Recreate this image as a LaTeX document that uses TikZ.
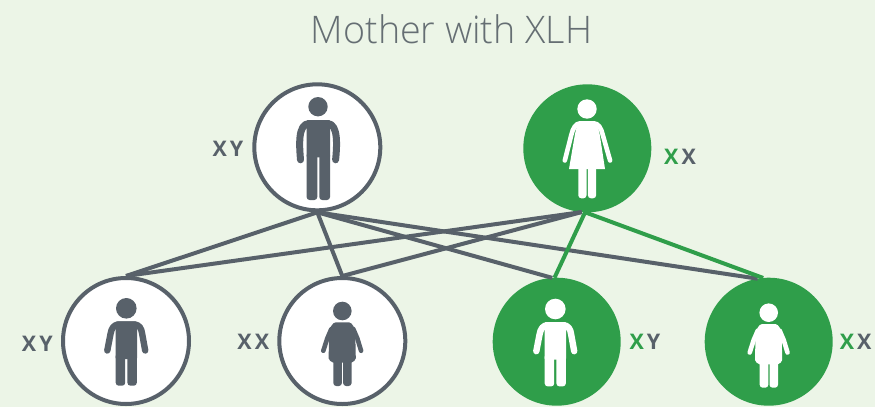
\documentclass[tikz,border=0pt]{standalone}
\usepackage{fontspec}
\setmainfont{Open Sans}
\newfontfamily\titlefont{Open Sans Light}
\definecolor{bgc}{HTML}{ECF5E7}
\definecolor{grayc}{HTML}{58616A}
\definecolor{greenc}{HTML}{2F9E4A}
\definecolor{titlec}{HTML}{656E73}
\tikzset{
  grayring/.style={circle,draw=grayc,fill=white,line width=4pt,minimum size=126pt,inner sep=0pt,outer sep=2pt},
  greendisc/.style={circle,fill=greenc,minimum size=128pt,inner sep=0pt,outer sep=0pt},
  genes/.style={font=\fontsize{21.5}{21.5}\selectfont\bfseries,inner sep=0pt,anchor=center},
  link/.style={line width=4pt,draw=grayc},
  greenlink/.style={line width=4pt,draw=greenc}
}
\newcommand{\lk}{\kern3pt}
% figures, drawn round a circle's centre
\newcommand{\figman}[4]{\begin{scope}[shift={(#1)},xshift=#2pt,yshift=#3pt]
  \fill[#4] (0.7,-40.6) circle (9.7pt);
  \fill[#4,rounded corners=1pt] (-10.7,-27.3) rectangle (12.7,10);
  \fill[#4,rounded corners=3pt] (-10.7,5) rectangle (0,52.7);
  \fill[#4,rounded corners=3pt] (2,5) rectangle (12.7,52.7);
  \draw[#4,line width=7pt,line cap=round,line join=round] (-16.8,12.5) .. controls (-17.8,0) and (-20,-23.8) .. (-8,-23.8) -- (10,-23.8) .. controls (21.5,-23.8) and (19.5,0) .. (18.3,12.5);
\end{scope}}
\newcommand{\figwoman}[4]{\begin{scope}[shift={(#1)},xshift=#2pt,yshift=#3pt]
  \fill[#4] (-0.3,-39.3) circle (9.7pt);
  \fill[#4] (-7,-27.3) -- (6.5,-27.3) .. controls (9.5,-27) and (11,-20) .. (12.5,-13.3) -- (17.7,20.7) -- (-18.3,20.7) -- (-12.5,-13.3) .. controls (-11,-20) and (-10,-27) .. (-7,-27.3) -- cycle;
  \fill[#4,rounded corners=3pt] (-9,15) rectangle (-0.8,50);
  \fill[#4,rounded corners=3pt] (0.6,15) rectangle (8.8,50);
  \draw[#4,line width=4.6pt,line cap=round] (-22.5,12.2) -- (-16,-13.3) .. controls (-14.5,-20) and (-11.5,-25) .. (-7,-25);
  \draw[#4,line width=4.6pt,line cap=round] (22.8,12.2) -- (15.5,-13.3) .. controls (14,-20) and (11,-25) .. (6.5,-25);
\end{scope}}
\newcommand{\figboy}[4]{\begin{scope}[shift={(#1)},xshift=#2pt,yshift=#3pt]
  \fill[#4] (0.3,-32.7) circle (10.3pt);
  \fill[#4,rounded corners=1pt] (-10.3,-19.7) rectangle (11,18);
  \fill[#4,rounded corners=3pt] (-10.3,12) rectangle (-0.8,44.7);
  \fill[#4,rounded corners=3pt] (1.4,12) rectangle (10.8,44.7);
  \draw[#4,line width=6.4pt,line cap=round,line join=round] (-18.7,9.5) -- (-15.5,-7) .. controls (-14.5,-13) and (-12,-16.5) .. (-7,-16.5) -- (8,-16.5) .. controls (13,-16.5) and (15.5,-13) .. (16.2,-7) -- (19.2,9.5);
\end{scope}}
\newcommand{\figgirl}[4]{\begin{scope}[shift={(#1)},xshift=#2pt,yshift=#3pt]
  \fill[#4] (0,-30) circle (9.3pt);
  \fill[#4] (-6.5,-18.7) -- (6.5,-18.7) .. controls (10,-18.5) and (13,-13) .. (13,-6) -- (13.5,17.3) .. controls (13.5,19.5) and (11,20.5) .. (9,21.7) -- (-9,21.7) .. controls (-11,20.5) and (-13.7,19.5) .. (-13.7,17.3) -- (-13.2,-6) .. controls (-13,-13) and (-10,-18.5) .. (-6.5,-18.7) -- cycle;
  \fill[#4,rounded corners=3pt] (-9,15) rectangle (-0.4,45);
  \fill[#4,rounded corners=3pt] (0.8,15) rectangle (9.3,45);
  \draw[#4,line width=4.6pt,line cap=round] (-19,9.8) -- (-15,-2.7) -- (-11,-12);
  \draw[#4,line width=4.6pt,line cap=round] (18.8,9.8) -- (15,-2.7) -- (11,-12);
\end{scope}}
\begin{document}
\begin{tikzpicture}[x=1pt,y=-1pt]
  \fill[bgc] (0,0) rectangle (875,407);
  \useasboundingbox (0,0) rectangle (875,407);
  \node[text=titlec,font=\titlefont\fontsize{38}{38}\selectfont,inner sep=0pt,anchor=base,xscale=0.99] (title) at (451.5,43.5) {Mother with XLH};
  \node[grayring] (father) at (317.3,147.3) {};
  \node[greendisc] (mother) at (587.3,148.3) {};
  \node[grayring] (c1) at (126,341) {};
  \node[grayring] (c2) at (342.3,341) {};
  \node[greendisc] (c3) at (556.7,341.7) {};
  \node[greendisc] (c4) at (768.7,341.7) {};
  % connectors
  \draw[link] (father.south) -- (c1.north);
  \draw[link] (father.south) -- (c2.north);
  \draw[link] (father.south) -- (c3.94);
  \draw[link] (father.south) -- (c4.100);
  \draw[link] (mother.265) -- (c1.north);
  \draw[link] (mother.265) -- (c2.north);
  \draw[greenlink] (mother.268) -- (c3.92);
  \draw[greenlink] (mother.268) -- (c4.95);
  % figures
  \figman{father.center}{0}{0}{grayc}
  \figwoman{mother.center}{0}{0}{white}
  \figboy{c1.center}{0}{0}{grayc}
  \figgirl{c2.center}{0}{0}{grayc}
  \figboy{c3.center}{-1.7}{0}{white}
  \figgirl{c4.center}{0}{-1}{white}
  % labels
  \node[genes,text=grayc] (l0) at (228,149) {X\lk Y};
  \node[genes] (l1) at (680,157) {\textcolor{greenc}{X}\lk\textcolor{grayc}{X}};
  \node[genes,text=grayc] (l2) at (37.3,343.5) {X\lk Y};
  \node[genes,text=grayc] (l3) at (253.3,342) {X\lk X};
  \node[genes] (l4) at (645,342) {\textcolor{greenc}{X}\lk\textcolor{grayc}{Y}};
  \node[genes] (l5) at (855.7,342) {\textcolor{greenc}{X}\lk\textcolor{grayc}{X}};
\end{tikzpicture}
\end{document}
